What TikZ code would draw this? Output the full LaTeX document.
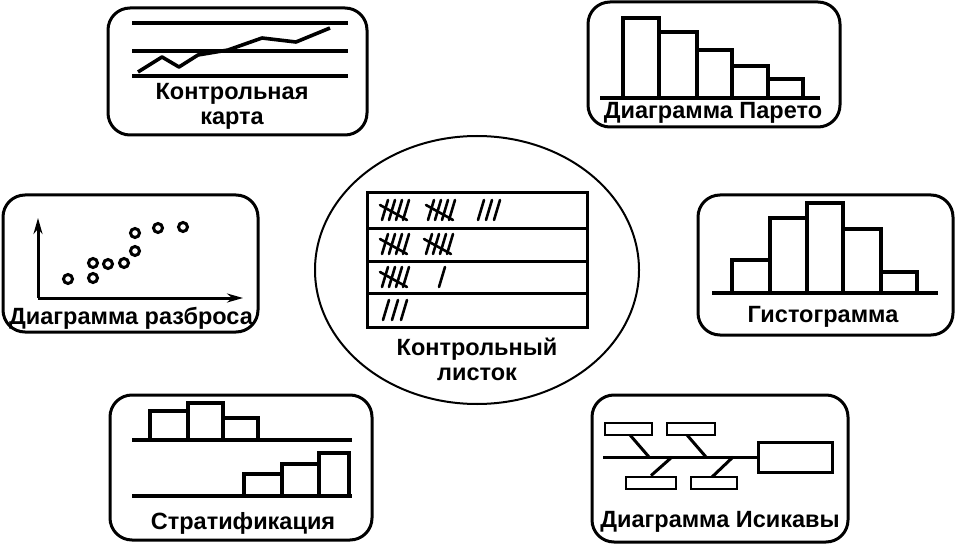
\documentclass[tikz,border=0pt]{standalone}
\usepackage{fontspec}
\setmainfont{Liberation Sans}
\usetikzlibrary{
  arrows.meta,
  shapes.geometric
}
\definecolor{qtInk}{HTML}{000000}
\tikzset{
  label/.style={font=\fontsize{23.5}{25}\selectfont\bfseries, text=qtInk, align=center, inner sep=0pt},
  panel/.style={draw=qtInk, line width=3pt, rounded corners=22pt, inner sep=0pt},
  sheet/.style={ellipse, draw=qtInk, line width=2pt, inner sep=0pt},
  rule/.style={line width=3.4pt, draw=qtInk},
  bar/.style={line width=3.4pt, draw=qtInk},
  trace/.style={line width=3.6pt, draw=qtInk, line join=round},
  dot/.style={circle, draw=qtInk, line width=3pt, minimum size=9pt, inner sep=0pt},
  axis/.style={-{Stealth[length=16pt,width=9pt]}, line width=3pt, draw=qtInk},
  cell/.style={line width=3pt, draw=qtInk},
  bone/.style={line width=3pt, draw=qtInk},
  cause/.style={draw=qtInk, line width=2.8pt, minimum height=12pt, inner sep=0pt},
  stroke/.style={line width=2.6pt, draw=qtInk, line cap=round},
  tallyone/.pic={\draw[stroke] (-3,10) -- (3,-10);},
  tallyfive/.pic={
    \draw[stroke] (-3,10) -- (3,-10);
    \draw[stroke] (4,10) -- (10,-10);
    \draw[stroke] (11,10) -- (17,-10);
    \draw[stroke] (18,10) -- (24,-10);
    \draw[stroke] (-5,-5) -- (22,10);
  }
}

\begin{document}
\begin{tikzpicture}[x=1pt,y=-1pt]

\useasboundingbox (0,0) rectangle (958,548);

% --------------------------------------------------------------------------
% Centre: check sheet
% --------------------------------------------------------------------------
\node[sheet, minimum width=324pt, minimum height=268pt] (sheet) at (477,270) {};

\draw[cell] (367,193) rectangle (587,327);
\draw[cell] (367,228) -- (587,228);
\draw[cell] (367,261) -- (587,261);
\draw[cell] (367,293) -- (587,293);

\pic at (385,210) {tallyfive};
\pic at (431,210) {tallyfive};
\pic at (481,210) {tallyone};
\pic at (489,210) {tallyone};
\pic at (497,210) {tallyone};

\pic at (385,244) {tallyfive};
\pic at (429,244) {tallyfive};

\pic at (385,277) {tallyfive};
\pic at (442,277) {tallyone};

\pic at (386,310) {tallyone};
\pic at (395,310) {tallyone};
\pic at (404,310) {tallyone};

\node[label] (sheet_lbl) at (477,359) {Контрольный\\листок};

% --------------------------------------------------------------------------
% Control chart
% --------------------------------------------------------------------------
\node[panel, minimum width=259pt, minimum height=127pt] (chart) at (237.5,71.5) {};

\draw[rule] (132,23) -- (348,23);
\draw[rule] (132,51) -- (348,51);
\draw[rule] (132,76) -- (348,76);
\draw[trace] (138,72) -- (162,57) -- (179,67) -- (198,55) -- (228,50)
  -- (262,38) -- (296,42) -- (330,28);

\node[label] (chart_lbl) at (232,106) {Контрольная\\карта};

% --------------------------------------------------------------------------
% Pareto chart
% --------------------------------------------------------------------------
\node[panel, minimum width=252pt, minimum height=125pt] (pareto) at (714,64.5) {};

\draw[rule] (600,98) -- (820,98);
\draw[bar] (623,98) rectangle (659,18);
\draw[bar] (659,98) rectangle (697,32);
\draw[bar] (697,98) rectangle (732,50);
\draw[bar] (732,98) rectangle (768,66);
\draw[bar] (768,98) rectangle (803,79);

\node[label] (pareto_lbl) at (713,113) {Диаграмма Парето};

% --------------------------------------------------------------------------
% Scatter diagram
% --------------------------------------------------------------------------
\node[panel, minimum width=255pt, minimum height=137pt] (scatter) at (130.5,263.5) {};

\coordinate (origin) at (38,298);
\coordinate (ytip) at (38,218);
\coordinate (xtip) at (243,298);
\draw[axis] (origin) -- (ytip);
\draw[axis] (origin) -- (xtip);

\node[dot] (s1) at (68,279) {};
\node[dot] (s2) at (93,278) {};
\node[dot] (s3) at (93,263) {};
\node[dot] (s4) at (108,264) {};
\node[dot] (s5) at (124,263) {};
\node[dot] (s6) at (135,251) {};
\node[dot] (s7) at (135,233) {};
\node[dot] (s8) at (158,228) {};
\node[dot] (s9) at (183,227) {};

\node[label] (scatter_lbl) at (131,318) {Диаграмма разброса};

% --------------------------------------------------------------------------
% Histogram
% --------------------------------------------------------------------------
\node[panel, minimum width=255pt, minimum height=140pt] (histo) at (825.5,265) {};

\draw[rule] (712,293) -- (938,293);
\draw[bar] (732,293) rectangle (770,260);
\draw[bar] (770,293) rectangle (807,218);
\draw[bar] (807,293) rectangle (843,203);
\draw[bar] (843,293) rectangle (881,229);
\draw[bar] (881,293) rectangle (917,272);

\node[label] (histo_lbl) at (823,317) {Гистограмма};

% --------------------------------------------------------------------------
% Stratification
% --------------------------------------------------------------------------
\node[panel, minimum width=262pt, minimum height=145pt] (strata) at (241,467.5) {};

\draw[rule] (132,440) -- (352,440);
\draw[bar] (150,440) rectangle (188,411);
\draw[bar] (188,440) rectangle (223,403);
\draw[bar] (223,440) rectangle (258,418);

\draw[rule] (132,496) -- (352,496);
\draw[bar] (244,496) rectangle (282,474);
\draw[bar] (282,496) rectangle (319,464);
\draw[bar] (319,496) rectangle (349,453);

\node[label] (strata_lbl) at (243,523) {Стратификация};

% --------------------------------------------------------------------------
% Ishikawa diagram
% --------------------------------------------------------------------------
\node[panel, minimum width=256pt, minimum height=147pt] (fishbone) at (720,468.5) {};

\node[draw=qtInk, line width=3pt, minimum width=74pt, minimum height=30pt, inner sep=0pt] (head) at (795,457) {};
\node[cause, minimum width=47pt] (cause_a) at (628.5,429) {};
\node[cause, minimum width=48pt] (cause_b) at (691,429) {};
\node[cause, minimum width=50pt] (cause_c) at (651,483) {};
\node[cause, minimum width=46pt] (cause_d) at (714,483) {};

\coordinate (tail) at (603,457);
\coordinate (joint_a) at (649,457);
\coordinate (joint_b) at (706,457);
\coordinate (joint_c) at (672,457);
\coordinate (joint_d) at (733,457);
\draw[bone] (tail) -- (head.west);
\draw[bone] (630,435) -- (joint_a);
\draw[bone] (687,435) -- (joint_b);
\draw[bone] (cause_c.north) -- (joint_c);
\draw[bone] (712,477) -- (joint_d);

\node[label] (fishbone_lbl) at (720,522) {Диаграмма Исикавы};

\end{tikzpicture}
\end{document}
